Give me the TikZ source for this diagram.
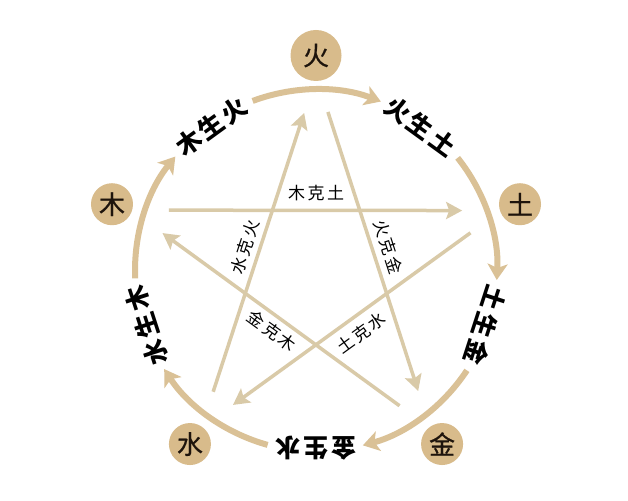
\documentclass[tikz,border=0pt]{standalone}
\usepackage{fontspec}
\newfontfamily\cjk{Noto Sans CJK SC}
\newfontfamily\cjkelem[FakeBold=0.6]{Noto Sans CJK SC}
\usetikzlibrary{arrows.meta}
\definecolor{elemfill}{RGB}{216,187,139}
\definecolor{arccol}{RGB}{218,193,150}
\definecolor{starcol}{RGB}{217,202,168}
\definecolor{elemtext}{RGB}{30,20,12}
\begin{document}
\begin{tikzpicture}[x=1pt,y=1pt,
  elem/.style={circle, fill=elemfill, minimum size=42pt, inner sep=0pt, text=elemtext, font=\cjkelem\fontsize{26}{26}\selectfont},
  shengarc/.style={draw=arccol, line width=6pt, -{Stealth[length=16pt,width=20pt,inset=4pt]}},
  kearrow/.style={draw=starcol, line width=3.5pt, -{Stealth[length=16pt,width=17pt,inset=3pt]}},
  shenglabel/.style={font=\cjk\bfseries\fontsize{25}{25}\selectfont, inner sep=0pt},
  kelabel/.style={font=\cjk\fontsize{17}{17}\selectfont, inner sep=0pt}]
\useasboundingbox[fill=white] (0,0) rectangle (628,500);
\begin{scope}[shift={(316,229.5)}]
  % star (ke) arrows
  \coordinate (s1) at (157.7:159); \coordinate (e1) at (22.3:158);
  \coordinate (s2) at (13.7:159);  \coordinate (e2) at (-121.7:158);
  \coordinate (s3) at (-130.3:159); \coordinate (e3) at (94.3:158);
  \coordinate (s4) at (85.7:159);  \coordinate (e4) at (-49.7:158);
  \coordinate (s5) at (-58.3:159); \coordinate (e5) at (166.3:158);
  \draw[kearrow] (s1) -- (e1);
  \draw[kearrow] (s2) -- (e2);
  \draw[kearrow] (s3) -- (e3);
  \draw[kearrow] (s4) -- (e4);
  \draw[kearrow] (s5) -- (e5);
  % ke labels
  \node[kelabel] (k1) at (90:77) {木\hspace{2.5pt}克\hspace{2.5pt}土};
  \node[kelabel, rotate=-72] (k2) at (18:76) {火\hspace{2.5pt}克\hspace{2.5pt}金};
  \node[kelabel, rotate=36] (k3) at (-54:77) {土\hspace{2.5pt}克\hspace{2.5pt}水};
  \node[kelabel, rotate=-36] (k4) at (-126:75) {金\hspace{2.5pt}克\hspace{2.5pt}木};
  \node[kelabel, rotate=72] (k5) at (162:75) {水\hspace{2.5pt}克\hspace{2.5pt}火};
  % sheng arcs
  \foreach \t in {90,18,-54,-126,162}
    \draw[shengarc] (\t+20.5:181) arc[start angle=\t+20.5, end angle=\t-21, radius=181];
  % sheng labels
  \node[shenglabel, rotate=36] (l1) at (126:178) {木\hspace{3pt}生\hspace{3pt}火};
  \node[shenglabel, rotate=-36] (l2) at (54:178) {火\hspace{3pt}生\hspace{3pt}土};
  \node[shenglabel, rotate=-108] (l3) at (-18:178) {土\hspace{3pt}生\hspace{3pt}金};
  \node[shenglabel, rotate=180] (l4) at (-90:178) {金\hspace{3pt}生\hspace{3pt}水};
  \node[shenglabel, rotate=108] (l5) at (198:178) {水\hspace{3pt}生\hspace{3pt}木};
  % elements
  \node[elem, minimum size=51pt] (fire) at (90:215) {火};
  \node[elem] (earth) at (18:214.5) {土};
  \node[elem] (metal) at (-54:214.5) {金};
  \node[elem] (water) at (-126:214.5) {水};
  \node[elem] (wood) at (162:214.5) {木};
\end{scope}
\end{tikzpicture}
\end{document}
